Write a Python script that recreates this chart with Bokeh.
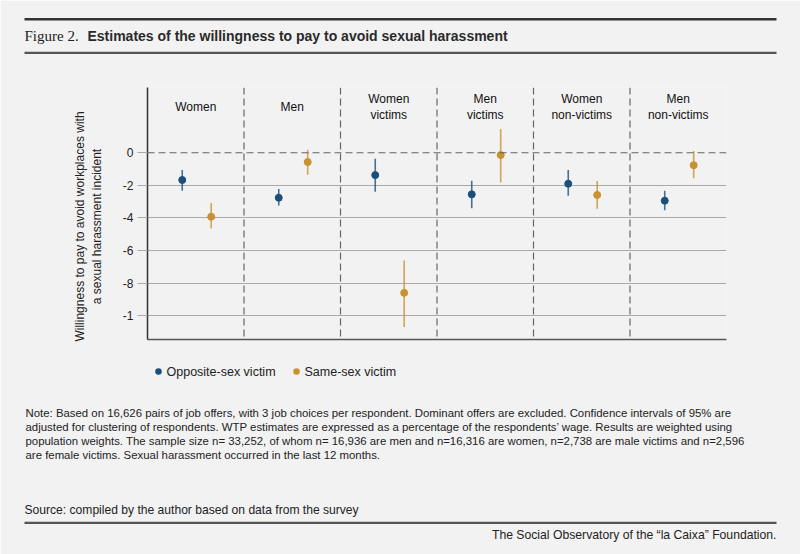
import math
from bokeh.plotting import figure
from bokeh.models import Range1d, FixedTicker, Span
from bokeh.embed import file_html
from bokeh.resources import INLINE
from bokeh.core.properties import value

# ---------------- data ----------------
groups = ["Women", "Men", "Women\nvictims", "Men\nvictims",
          "Women\nnon-victims", "Men\nnon-victims"]
opp_est = [-1.67, -2.76, -1.37, -2.55, -1.90, -2.94]
opp_lo = [-2.33, -3.24, -2.39, -3.41, -2.63, -3.53]
opp_hi = [-1.06, -2.22, -0.37, -1.71, -1.06, -2.33]
same_est = [-3.92, -0.57, -8.59, -0.14, -2.59, -0.76]
same_lo = [-4.65, -1.35, -10.69, -1.82, -3.43, -1.57]
same_hi = [-3.08, 0.18, -6.61, 1.45, -1.73, 0.10]
y_ticks = [0, -2, -4, -6, -8, -10]
y_tick_labels = ["0", "-2", "-4", "-6", "-8", "-1"]
series_names = ["Opposite-sex victim", "Same-sex victim"]

title_prefix = "Figure 2."
title_text = "Estimates of the willingness to pay to avoid sexual harassment"
y_label = "Willingness to pay to avoid workplaces with\na sexual harassment incident"
note_lines = [
    "Note: Based on 16,626 pairs of job offers, with 3 job choices per respondent. Dominant offers are excluded. Confidence intervals of 95% are",
    "adjusted for clustering of respondents. WTP estimates are expressed as a percentage of the respondents\u2019 wage. Results are weighted using",
    "population weights. The sample size n= 33,252, of whom n= 16,936 are men and n=16,316 are women, n=2,738 are male victims and n=2,596",
    "are female victims. Sexual harassment occurred in the last 12 months.",
]
source_text = "Source: compiled by the author based on data from the survey"
footer_text = "The Social Observatory of the \u201cla Caixa\u201d Foundation."

# ---------------- style / geometry ----------------
BG = "#f2f2f2"
BLUE = "#1b4f7b"
GOLD = "#c9922f"
TXT = "#222222"
GRID = "#aaaaaa"
SANS = "Liberation Sans"
SERIF = "Liberation Serif"
W, H = 800, 554
Y_TOP, Y_BOT = 4.0, -11.45
# frame position in canvas pixels
FL, FR, FT, FB = 147, 726, 87, 339


def dx(px):
    return (px - FL) * 6.0 / (FR - FL)


def dy(py):
    return Y_TOP - (py - FT) * (Y_TOP - Y_BOT) / (FB - FT)


p = figure(width=W, height=H, x_range=Range1d(0, 6), y_range=Range1d(Y_BOT, Y_TOP),
           output_backend="svg", toolbar_location=None,
           min_border_left=FL, min_border_right=W - FR,
           min_border_top=FT, min_border_bottom=H - FB)
p.background_fill_color = BG
p.border_fill_color = BG
p.outline_line_color = None

# y axis
p.yaxis.ticker = FixedTicker(ticks=y_ticks)
p.yaxis.major_label_overrides = {t: l for t, l in zip(y_ticks, y_tick_labels)}
p.yaxis.major_tick_in = 0
p.yaxis.major_tick_out = 10
p.yaxis.major_tick_line_color = GRID
p.yaxis.major_tick_line_width = 1.2
p.yaxis.minor_tick_line_color = None
p.yaxis.axis_line_color = "#333333"
p.yaxis.axis_line_width = 1.5
p.yaxis.major_label_standoff = 4
p.yaxis.major_label_text_font = SANS
p.yaxis.major_label_text_font_size = "12px"
p.yaxis.major_label_text_color = TXT

# y axis title, drawn as rotated text
p.text(x=[dx(88)], y=[dy(226)], text=[y_label], angle=math.pi / 2,
       text_font=value(SANS), text_font_size="12px", text_color=TXT,
       text_align="center", text_baseline="middle", text_line_height=1.2, level="overlay")

# x axis: only its line
p.xaxis.ticker = FixedTicker(ticks=[])
p.xaxis.major_tick_in = 0
p.xaxis.major_tick_out = 0
p.xaxis.minor_tick_line_color = None
p.xaxis.axis_line_color = "#555555"
p.xaxis.axis_line_width = 1.5

p.xgrid.visible = False
p.ygrid.ticker = FixedTicker(ticks=[t for t in y_ticks if t != 0])
p.ygrid.grid_line_color = GRID
p.ygrid.grid_line_width = 1.2

p.add_layout(Span(location=0, dimension="width", line_color="#666666",
                  line_width=1.2, line_dash="7 4"))
for i in range(1, len(groups)):
    p.add_layout(Span(location=i, dimension="height", line_color="#666666",
                      line_width=1.2, line_dash="7 4"))

idx = list(range(len(groups)))
x_opp = [i + 0.36 for i in idx]
x_same = [i + 0.66 for i in idx]

p.segment(x0=x_opp, y0=opp_lo, x1=x_opp, y1=opp_hi, line_color=BLUE, line_width=1.6, line_alpha=0.8)
p.segment(x0=x_same, y0=same_lo, x1=x_same, y1=same_hi, line_color=GOLD, line_width=1.6, line_alpha=0.8)
p.scatter(x=x_opp, y=opp_est, size=7, fill_color=BLUE, line_color=BLUE)
p.scatter(x=x_same, y=same_est, size=7, fill_color=GOLD, line_color=GOLD)

p.text(x=[i + 0.5 for i in idx], y=[2.8] * len(groups), text=groups,
       text_font=value(SANS), text_font_size="12px", text_color="#111111",
       text_align="center", text_baseline="middle", text_line_height=1.1)

# ---------------- legend (drawn below the frame) ----------------
leg_colors = [BLUE, GOLD]
leg_dot_px = [158, 296]
for name, col, px in zip(series_names, leg_colors, leg_dot_px):
    p.segment(x0=[dx(px)], y0=[dy(371)], x1=[dx(px) + 1e-4], y1=[dy(371)],
              line_color=col, line_width=6.5, line_cap="round", level="overlay")
    p.text(x=[dx(px + 8)], y=[dy(371)], text=[name], text_font=value(SANS), text_font_size="12.5px",
           text_color=TXT, text_baseline="middle", level="overlay")

# ---------------- header ----------------
p.segment(x0=[dx(24)], y0=[dy(18.8)], x1=[dx(776)], y1=[dy(18.8)],
          line_color="#333333", line_width=2.5, level="overlay")
p.segment(x0=[dx(24)], y0=[dy(52.3)], x1=[dx(776)], y1=[dy(52.3)],
          line_color="#555555", line_width=2.2, level="overlay")
p.text(x=[dx(24)], y=[dy(35.5)], text=[title_prefix], text_font=value(SERIF), text_font_size="15px",
       text_color=TXT, text_baseline="middle", level="overlay")
p.text(x=[dx(87)], y=[dy(35.5)], text=[title_text], text_font=value(SANS), text_font_size="14px",
       text_font_style="bold", text_color="#2a2a2a", text_baseline="middle", level="overlay")

# ---------------- footer ----------------
note_y = [412, 426, 440, 454]
p.text(x=[dx(25)] * len(note_lines), y=[dy(v) for v in note_y], text=note_lines,
       text_font=value(SANS), text_font_size="11.4px", text_color=TXT,
       text_baseline="middle", level="overlay")
p.text(x=[dx(24)], y=[dy(509)], text=[source_text], text_font=value(SANS), text_font_size="12.1px",
       text_color=TXT, text_baseline="middle", level="overlay")
p.segment(x0=[dx(24)], y0=[dy(522.3)], x1=[dx(776)], y1=[dy(522.3)],
          line_color="#555555", line_width=2.2, level="overlay")
p.text(x=[dx(776)], y=[dy(534)], text=[footer_text], text_font=value(SANS), text_font_size="12.2px",
       text_color=TXT, text_baseline="middle", text_align="right", level="overlay")

open("out.html", "w").write(file_html(p, INLINE))
